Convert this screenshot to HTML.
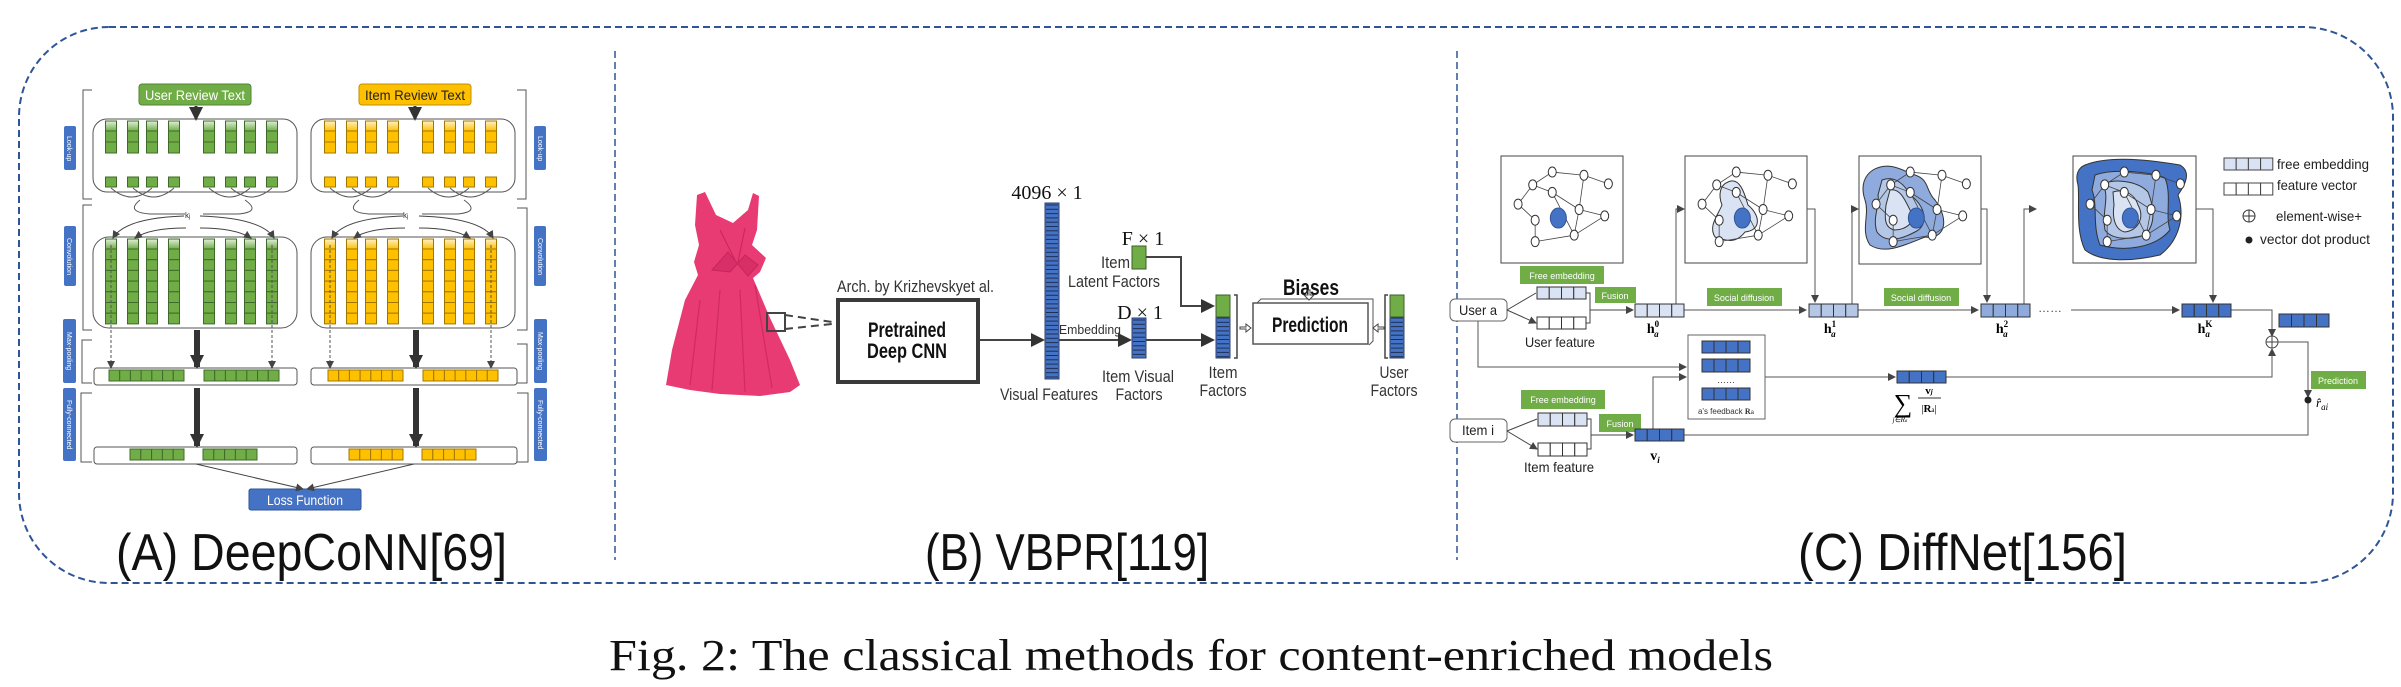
<!DOCTYPE html>
<html><head><meta charset="utf-8"><style>
html,body{margin:0;padding:0;background:#fff;}
svg{display:block;}
text{font-family:"Liberation Sans Narrow","Liberation Sans",sans-serif;}
.t{font-family:"Liberation Sans",sans-serif;}
.s{font-family:"Liberation Serif",serif;}
</style></head><body>
<svg id="S" width="2401" height="687" viewBox="0 0 2401 687" xmlns="http://www.w3.org/2000/svg">
<defs>
<marker id="ar" markerWidth="8" markerHeight="8" refX="7" refY="4" orient="auto" markerUnits="userSpaceOnUse"><path d="M0,0 L8,4 L0,8 z" fill="#444"/></marker>
<marker id="ab" markerWidth="14" markerHeight="14" refX="12" refY="7" orient="auto" markerUnits="userSpaceOnUse"><path d="M0,0 L14,7 L0,14 z" fill="#333"/></marker>
<linearGradient id="gg" x1="0" y1="0" x2="0" y2="1"><stop offset="0" stop-color="#e2f0d9"/><stop offset="1" stop-color="#70ad47"/></linearGradient>
<linearGradient id="gy" x1="0" y1="0" x2="0" y2="1"><stop offset="0" stop-color="#fff2cc"/><stop offset="1" stop-color="#ffc000"/></linearGradient>
</defs>
<rect x="19" y="27" width="2374" height="556" rx="90" ry="90" fill="none" stroke="#2f5597" stroke-width="2" stroke-dasharray="7,4"/>
<line x1="615" y1="51" x2="615" y2="560" stroke="#2f5597" stroke-width="1.5" stroke-dasharray="7,4"/>
<line x1="1457" y1="51" x2="1457" y2="560" stroke="#2f5597" stroke-width="1.5" stroke-dasharray="7,4"/>

<g id="A">
<rect x="139" y="84" width="112" height="21" rx="3" fill="#70ad47" stroke="#548235"/>
<text x="195" y="100" font-size="14" fill="#fff" text-anchor="middle" class="t" textLength="100" lengthAdjust="spacingAndGlyphs">User Review Text</text>
<rect x="359" y="84" width="112" height="21" rx="3" fill="#ffc000" stroke="#bf9000"/>
<text x="415" y="100" font-size="14" fill="#222" text-anchor="middle" class="t" textLength="100" lengthAdjust="spacingAndGlyphs">Item Review Text</text>
<rect x="93" y="119" width="204" height="73" rx="14" fill="none" stroke="#555" stroke-width="1"/>
<rect x="311" y="119" width="204" height="73" rx="14" fill="none" stroke="#555" stroke-width="1"/>
<rect x="93" y="237" width="204" height="91" rx="16" fill="none" stroke="#555" stroke-width="1"/>
<rect x="311" y="237" width="204" height="91" rx="16" fill="none" stroke="#555" stroke-width="1"/>
<rect x="94" y="368" width="203" height="17" rx="3" fill="none" stroke="#555"/>
<rect x="311" y="368" width="206" height="17" rx="3" fill="none" stroke="#555"/>
<rect x="94" y="447" width="203" height="17" rx="3" fill="none" stroke="#555"/>
<rect x="311" y="447" width="206" height="17" rx="3" fill="none" stroke="#555"/>
<rect x="249" y="489" width="112" height="21" rx="2" fill="#4472c4" stroke="#2f5597"/>
<text x="305" y="505" font-size="14" fill="#fff" text-anchor="middle" class="t" textLength="76" lengthAdjust="spacingAndGlyphs">Loss Function</text>
<line x1="196" y1="464" x2="303" y2="489" stroke="#444" marker-end="url(#ar)"/>
<line x1="414" y1="464" x2="307" y2="489" stroke="#444" marker-end="url(#ar)"/>
<g fill="#4472c4">
<rect x="64" y="126" width="12" height="44" rx="2"/><rect x="64" y="226" width="12" height="60" rx="2"/>
<rect x="63" y="319" width="13" height="64" rx="2"/><rect x="63" y="388" width="13" height="73" rx="2"/>
<rect x="534" y="126" width="12" height="44" rx="2"/><rect x="534" y="226" width="12" height="60" rx="2"/>
<rect x="534" y="319" width="13" height="64" rx="2"/><rect x="534" y="388" width="13" height="73" rx="2"/>
</g>
<g font-size="7" fill="#fff" class="t">
<text transform="translate(67,136) rotate(90)">Look-up</text>
<text transform="translate(67,238) rotate(90)">Convolution</text>
<text transform="translate(67,332) rotate(90)">Max-pooling</text>
<text transform="translate(67,400) rotate(90)">Fully-connected</text>
<text transform="translate(538,136) rotate(90)">Look-up</text>
<text transform="translate(538,238) rotate(90)">Convolution</text>
<text transform="translate(538,332) rotate(90)">Max-pooling</text>
<text transform="translate(538,400) rotate(90)">Fully-connected</text>
</g>
<g fill="none" stroke="#555" stroke-width="1">
<path d="M92,90 H83 V199 H92"/><path d="M92,205 H83 V330 H92"/><path d="M92,340 H82 V383 H92"/><path d="M92,393 H81 V462 H92"/>
<path d="M517,90 H526 V199 H517"/><path d="M517,208 H527 V330 H517"/><path d="M517,344 H527 V383 H517"/><path d="M517,393 H528 V462 H517"/>
</g>
<g fill="#333" class="s"><text x="185" y="218" font-size="8">k<tspan font-size="6">j</tspan></text><text x="403" y="218" font-size="8">k<tspan font-size="6">j</tspan></text></g>
<g id="Agen"></g>
</g>
<text x="116" y="570" font-size="52" class="t" fill="#111" textLength="391" lengthAdjust="spacingAndGlyphs">(A) DeepCoNN[69]</text>

<g id="B">
<path d="M697,195 L705,192 L716,215 L733,223 L748,210 L753,193 L759,196 L757,230 L752,245 L766,258 L760,272 L753,278 L770,318 L790,360 L800,385 L790,392 L760,396 L720,394 L690,390 L666,385 L672,350 L685,300 L698,275 L694,262 L699,245 L695,225 Z" fill="#e83a73"/>
<path d="M720,230 L735,260 M745,228 L738,262 M728,252 L712,270 L730,272 L745,255 L758,265 L748,276 Z" stroke="#c8245a" fill="#d92f68" stroke-width="1"/>
<path d="M700,300 L690,385 M720,290 L712,390 M740,290 L745,392 M755,285 L772,388" stroke="#d02a62" stroke-width="1.2" fill="none"/>
<rect x="767" y="313" width="18" height="18" fill="none" stroke="#444" stroke-width="2"/>
<path d="M785,315 L832,322 M785,329 L832,324" stroke="#444" stroke-width="2" stroke-dasharray="8,5"/>
<text x="837" y="292" font-size="17" fill="#333" textLength="157" lengthAdjust="spacingAndGlyphs">Arch. by Krizhevskyet al.</text>
<rect x="838" y="300" width="140" height="82" fill="#fff" stroke="#3a3a3a" stroke-width="4"/>
<text x="907" y="337" font-size="21" font-weight="bold" text-anchor="middle" fill="#111" textLength="78" lengthAdjust="spacingAndGlyphs">Pretrained</text>
<text x="907" y="358" font-size="21" font-weight="bold" text-anchor="middle" fill="#111" textLength="80" lengthAdjust="spacingAndGlyphs">Deep CNN</text>
<line x1="980" y1="340" x2="1043" y2="340" stroke="#444" stroke-width="2" marker-end="url(#ab)"/>
<text x="1047" y="199" font-size="20" text-anchor="middle" class="s" fill="#111">4096 × 1</text>
<rect x="1045" y="203" width="14" height="176" fill="#4472c4" stroke="#2f3f6a"/>
<text x="1049" y="400" font-size="17" text-anchor="middle" fill="#333" textLength="98" lengthAdjust="spacingAndGlyphs">Visual Features</text>
<line x1="1059" y1="340" x2="1130" y2="340" stroke="#444" stroke-width="2" marker-end="url(#ab)"/>
<text x="1059" y="334" font-size="13" fill="#333" textLength="62" lengthAdjust="spacingAndGlyphs">Embedding</text>
<rect x="1132" y="318" width="14" height="40" fill="#4472c4" stroke="#2f3f6a"/>
<text x="1140" y="319" font-size="20" text-anchor="middle" class="s" fill="#111">D × 1</text>
<text x="1138" y="382" font-size="17" text-anchor="middle" fill="#333" textLength="72" lengthAdjust="spacingAndGlyphs">Item Visual</text>
<text x="1139" y="400" font-size="17" text-anchor="middle" fill="#333" textLength="47" lengthAdjust="spacingAndGlyphs">Factors</text>
<rect x="1132" y="246" width="14" height="23" fill="#70ad47" stroke="#3f5f2a"/>
<text x="1143" y="245" font-size="20" text-anchor="middle" class="s" fill="#111">F × 1</text>
<text x="1130" y="268" font-size="17" text-anchor="end" fill="#333" textLength="29" lengthAdjust="spacingAndGlyphs">Item</text>
<text x="1114" y="287" font-size="17" text-anchor="middle" fill="#333" textLength="92" lengthAdjust="spacingAndGlyphs">Latent Factors</text>
<path d="M1146,257 H1181 V306 H1213" fill="none" stroke="#444" stroke-width="2" marker-end="url(#ab)"/>
<line x1="1146" y1="340" x2="1213" y2="340" stroke="#444" stroke-width="2" marker-end="url(#ab)"/>
<rect x="1216" y="295" width="14" height="63" fill="#4472c4" stroke="#2f3f6a"/>
<rect x="1216" y="295" width="14" height="22" fill="#70ad47" stroke="#3f5f2a"/>
<path d="M1234,295 h3 v63 h-3" fill="none" stroke="#444" stroke-width="1.5"/>
<text x="1223" y="378" font-size="17" text-anchor="middle" fill="#333" textLength="29" lengthAdjust="spacingAndGlyphs">Item</text>
<text x="1223" y="396" font-size="17" text-anchor="middle" fill="#333" textLength="47" lengthAdjust="spacingAndGlyphs">Factors</text>
<path d="M1240,327 h6 v-3 l5,4 l-5,4 v-3 h-6 z" fill="#fff" stroke="#444"/>
<path d="M1257,303 l4,-4 h112 v42 l-4,4" fill="#fff" stroke="#555"/>
<rect x="1253" y="303" width="115" height="41" fill="#fff" stroke="#555" stroke-width="1.5"/>
<text x="1310" y="332" font-size="21" font-weight="bold" text-anchor="middle" fill="#111" textLength="76" lengthAdjust="spacingAndGlyphs">Prediction</text>
<text x="1311" y="295" font-size="22" font-weight="bold" text-anchor="middle" fill="#111" textLength="56" lengthAdjust="spacingAndGlyphs">Biases</text>
<path d="M1308,290 v5 h-4 l5,5 l5,-5 h-4 v-5 z" fill="#fff" stroke="#444"/>
<path d="M1384,327 h-6 v-3 l-5,4 l5,4 v-3 h6 z" fill="#fff" stroke="#444"/>
<path d="M1388,295 h-3 v63 h3" fill="none" stroke="#444" stroke-width="1.5"/>
<rect x="1390" y="295" width="14" height="63" fill="#4472c4" stroke="#2f3f6a"/>
<rect x="1390" y="295" width="14" height="22" fill="#70ad47" stroke="#3f5f2a"/>
<text x="1394" y="378" font-size="17" text-anchor="middle" fill="#333" textLength="29" lengthAdjust="spacingAndGlyphs">User</text>
<text x="1394" y="396" font-size="17" text-anchor="middle" fill="#333" textLength="47" lengthAdjust="spacingAndGlyphs">Factors</text>
<g id="Bgen"></g>
</g>
<text x="925" y="570" font-size="52" class="t" fill="#111" textLength="284" lengthAdjust="spacingAndGlyphs">(B) VBPR[119]</text>

<g id="C">
<rect x="1501" y="156" width="122" height="107" fill="#fff" stroke="#444"/>
<rect x="1685" y="156" width="122" height="107" fill="#fff" stroke="#444"/>
<rect x="1859" y="156" width="122" height="108" fill="#fff" stroke="#444"/>
<rect x="2073" y="156" width="123" height="107" fill="#fff" stroke="#444"/>
<path d="M1728,182 C1740,176 1745,195 1748,205 C1760,215 1762,230 1745,232 C1735,245 1725,240 1715,237 C1708,226 1718,215 1722,205 C1718,195 1720,185 1728,182 Z" fill="#dae3f3" stroke="#333"/>
<path d="M1873,170 C1890,160 1905,172 1915,175 C1930,180 1925,190 1935,200 C1950,220 1945,240 1925,237 C1905,245 1885,255 1870,245 C1860,230 1870,215 1865,200 C1860,185 1865,175 1873,170 Z" fill="#8faadc" stroke="#333"/>
<path d="M1882,180 C1895,175 1905,185 1910,195 C1925,205 1930,225 1915,232 C1900,240 1885,243 1877,232 C1872,218 1880,205 1878,195 Z" fill="#b4c7e7" stroke="#333"/>
<path d="M1890,190 C1900,188 1905,200 1910,210 C1918,222 1905,230 1895,230 C1883,228 1885,215 1886,205 Z" fill="#dae3f3" stroke="#333"/>
<path d="M2085,165 C2110,155 2150,160 2180,165 C2192,172 2185,185 2178,195 C2185,215 2180,240 2160,255 C2130,262 2100,262 2085,250 C2075,230 2080,200 2078,185 C2075,175 2078,168 2085,165 Z" fill="#4472c4" stroke="#333"/>
<path d="M2095,175 C2115,168 2150,172 2165,178 C2172,195 2165,215 2170,230 C2155,248 2125,252 2100,245 C2092,225 2098,205 2092,190 Z" fill="#8faadc" stroke="#333"/>
<path d="M2105,183 C2120,178 2140,183 2148,192 C2155,210 2155,225 2145,235 C2130,240 2112,240 2105,230 C2102,215 2108,200 2105,190 Z" fill="#b4c7e7" stroke="#333"/>
<path d="M2113,192 C2125,188 2135,195 2138,205 C2145,218 2138,230 2125,232 C2115,230 2112,218 2114,205 Z" fill="#dae3f3" stroke="#333"/>
<g id="graphs"></g>
<g id="leg"></g>
<text x="2277" y="169" font-size="14" fill="#222" textLength="92" lengthAdjust="spacingAndGlyphs">free embedding</text>
<text x="2277" y="190" font-size="14" fill="#222" textLength="80" lengthAdjust="spacingAndGlyphs">feature vector</text>
<circle cx="2249" cy="216" r="6" fill="none" stroke="#333"/><path d="M2243,216 h12 M2249,210 v12" stroke="#333"/>
<text x="2276" y="221" font-size="14" fill="#222" textLength="86" lengthAdjust="spacingAndGlyphs">element-wise+</text>
<circle cx="2249" cy="240" r="3.5" fill="#222"/>
<text x="2260" y="244" font-size="14" fill="#222" textLength="110" lengthAdjust="spacingAndGlyphs">vector dot product</text>
<rect x="1450" y="299" width="57" height="22" rx="5" fill="#fff" stroke="#666"/>
<text x="1478" y="315" font-size="14" text-anchor="middle" fill="#222" textLength="38" lengthAdjust="spacingAndGlyphs">User a</text>
<rect x="1520" y="266" width="84" height="18" fill="#70ad47"/>
<text x="1562" y="279" font-size="9" text-anchor="middle" fill="#fff">Free embedding</text>
<rect x="1595" y="287" width="41" height="16" fill="#70ad47"/>
<text x="1615" y="299" font-size="9" text-anchor="middle" fill="#fff">Fusion</text>
<path d="M1507,310 L1536,293 M1507,310 L1536,323" stroke="#444" marker-end="url(#ar)"/>
<path d="M1586,293 h4 v30 h-4 M1590,310 h43" fill="none" stroke="#444" marker-end="url(#ar)"/>
<text x="1560" y="347" font-size="14" text-anchor="middle" fill="#222" textLength="70" lengthAdjust="spacingAndGlyphs">User feature</text>
<text x="1653" y="333" font-size="14" font-weight="bold" class="s" text-anchor="middle">h<tspan font-size="9" dy="-6">0</tspan><tspan font-size="9" dx="-5" dy="10" font-style="italic">a</tspan></text>
<rect x="1707" y="288" width="75" height="18" fill="#70ad47"/>
<text x="1744" y="301" font-size="9" text-anchor="middle" fill="#fff">Social diffusion</text>
<rect x="1884" y="288" width="75" height="18" fill="#70ad47"/>
<text x="1921" y="301" font-size="9" text-anchor="middle" fill="#fff">Social diffusion</text>
<text x="1830" y="333" font-size="14" font-weight="bold" class="s" text-anchor="middle">h<tspan font-size="9" dy="-6">1</tspan><tspan font-size="9" dx="-5" dy="10" font-style="italic">a</tspan></text>
<text x="2002" y="333" font-size="14" font-weight="bold" class="s" text-anchor="middle">h<tspan font-size="9" dy="-6">2</tspan><tspan font-size="9" dx="-5" dy="10" font-style="italic">a</tspan></text>
<text x="2205" y="333" font-size="14" font-weight="bold" class="s" text-anchor="middle">h<tspan font-size="9" dy="-6">K</tspan><tspan font-size="9" dx="-7" dy="10" font-style="italic">a</tspan></text>
<g fill="none" stroke="#555" stroke-width="1">
<path d="M1684,310 H1806" marker-end="url(#ar)"/>
<path d="M1858,310 H1978" marker-end="url(#ar)"/>
<path d="M2071,310 H2179" marker-end="url(#ar)"/>
<path d="M1676,304 V209 H1684" marker-end="url(#ar)"/>
<path d="M1807,209 H1815 V302" marker-end="url(#ar)"/>
<path d="M1852,304 V209 H1858" marker-end="url(#ar)"/>
<path d="M1981,209 H1987 V302" marker-end="url(#ar)"/>
<path d="M2024,304 V209 H2036" marker-end="url(#ar)"/>
<path d="M2196,209 H2213 V302" marker-end="url(#ar)"/>
<path d="M2231,310 H2272 V336" marker-end="url(#ar)"/>
<path d="M1478,321 V367 H1686" marker-end="url(#ar)"/>
<path d="M1765,377 H1895" marker-end="url(#ar)"/>
<path d="M1946,377 H2272 V349" marker-end="url(#ar)"/>
<path d="M2278,342 H2308 V397" marker-end="url(#ar)"/>
<path d="M1641,435 H2308 V403"/>
<path d="M1653,429 V377 H1686" marker-end="url(#ar)"/>
</g>
<text x="2038" y="312" font-size="12" fill="#444">……</text>
<circle cx="2272" cy="342" r="6" fill="#fff" stroke="#444"/><path d="M2266,342 h12 M2272,336 v12" stroke="#444"/>
<circle cx="2308" cy="400" r="3.5" fill="#222"/>
<rect x="2311" y="371" width="55" height="18" fill="#70ad47"/>
<text x="2338" y="384" font-size="9" text-anchor="middle" fill="#fff">Prediction</text>
<text x="2316" y="407" font-size="13" class="s" font-style="italic">r̂<tspan font-size="9" dy="3">ai</tspan></text>
<rect x="1688" y="335" width="77" height="84" fill="#fff" stroke="#666"/>
<text x="1726" y="383" font-size="9" text-anchor="middle" fill="#333">……</text>
<text x="1726" y="414" font-size="8" text-anchor="middle" fill="#333">a's feedback <tspan font-weight="bold" class="s">R</tspan><tspan font-size="6">a</tspan></text>
<text x="1903" y="412" font-size="26" class="s" text-anchor="middle">∑</text>
<text x="1900" y="422" font-size="7" class="s" font-style="italic" text-anchor="middle">j∈R<tspan font-size="5">a</tspan></text>
<text x="1929" y="394" font-size="11" class="s" font-weight="bold" text-anchor="middle">v<tspan font-size="7" font-style="italic">j</tspan></text>
<line x1="1918" y1="398" x2="1941" y2="398" stroke="#333"/>
<text x="1929" y="412" font-size="11" class="s" text-anchor="middle">|<tspan font-weight="bold">R</tspan><tspan font-size="7">a</tspan>|</text>
<rect x="1450" y="419" width="57" height="23" rx="5" fill="#fff" stroke="#666"/>
<text x="1478" y="435" font-size="14" text-anchor="middle" fill="#222" textLength="32" lengthAdjust="spacingAndGlyphs">Item i</text>
<rect x="1521" y="390" width="84" height="19" fill="#70ad47"/>
<text x="1563" y="403" font-size="9" text-anchor="middle" fill="#fff">Free embedding</text>
<rect x="1599" y="414" width="42" height="18" fill="#70ad47"/>
<text x="1620" y="427" font-size="9" text-anchor="middle" fill="#fff">Fusion</text>
<path d="M1507,431 L1537,419 M1507,431 L1537,449" stroke="#444" marker-end="url(#ar)"/>
<path d="M1587,419 h4 v30 h-4 M1591,435 h42" fill="none" stroke="#444" marker-end="url(#ar)"/>
<text x="1559" y="472" font-size="14" text-anchor="middle" fill="#222" textLength="70" lengthAdjust="spacingAndGlyphs">Item feature</text>
<text x="1655" y="460" font-size="14" font-weight="bold" class="s" text-anchor="middle">v<tspan font-size="9" font-style="italic" dy="3">i</tspan></text>
<g id="vecs"></g>
</g>
<text x="1798" y="570" font-size="52" class="t" fill="#111" textLength="329" lengthAdjust="spacingAndGlyphs">(C) DiffNet[156]</text>

<text x="609" y="670" font-size="44" class="s" fill="#111" textLength="1164" lengthAdjust="spacingAndGlyphs">Fig. 2: The classical methods for content-enriched models</text>
</svg>
<script>
var NS="http://www.w3.org/2000/svg";
function el(p,t,a){var e=document.createElementNS(NS,t);for(var k in a)e.setAttribute(k,a[k]);document.getElementById(p).appendChild(e);return e;}
var cxL=[111,133,152,174,209,231,250,272];
function cols(off,fill,stroke,grad){
 cxL.forEach(function(c){var x=c+off-5.5;
  el("Agen","rect",{x:x,y:121,width:11,height:10,fill:"url(#"+grad+")",stroke:stroke});
  el("Agen","rect",{x:x,y:131,width:11,height:11,fill:fill,stroke:stroke});
  el("Agen","rect",{x:x,y:142,width:11,height:11,fill:fill,stroke:stroke});
  el("Agen","rect",{x:x,y:177,width:11,height:10,fill:fill,stroke:stroke});
  el("Agen","rect",{x:x,y:239,width:11,height:10,fill:"url(#"+grad+")",stroke:stroke});
  for(var i=0;i<7;i++)el("Agen","rect",{x:x,y:249+i*10.7,width:11,height:10.7,fill:fill,stroke:stroke});
 });
 [[109,184],[204,279]].forEach(function(r){var n=7,w=(r[1]-r[0])/n;for(var i=0;i<n;i++)el("Agen","rect",{x:r[0]+off+i*w,y:370,width:w,height:11,fill:fill,stroke:stroke});});
 [[130,184],[203,257]].forEach(function(r){var n=5,w=(r[1]-r[0])/n;for(var i=0;i<n;i++)el("Agen","rect",{x:r[0]+off+i*w,y:449,width:w,height:11,fill:fill,stroke:stroke});});
 [[111,152],[133,174],[209,250],[231,272]].forEach(function(p){el("Agen","path",{d:"M"+(p[0]+off)+",188 Q"+((p[0]+p[1])/2+off)+",206 "+(p[1]+off)+",188",fill:"none",stroke:"#555"});});
 el("Agen","path",{d:"M"+(140+off)+",200 Q"+(125+off)+",212 "+(150+off)+",214 L"+(185+off)+",214",fill:"none",stroke:"#555"});
 el("Agen","path",{d:"M"+(245+off)+",200 Q"+(262+off)+",212 "+(238+off)+",214 L"+(203+off)+",214",fill:"none",stroke:"#555"});
 el("Agen","path",{d:"M"+(184+off)+",216 Q"+(125+off)+",218 "+(113+off)+",238",fill:"none",stroke:"#444","marker-end":"url(#ar)"});
 el("Agen","path",{d:"M"+(186+off)+",228 Q"+(150+off)+",228 "+(135+off)+",238",fill:"none",stroke:"#444","marker-end":"url(#ar)"});
 el("Agen","path",{d:"M"+(200+off)+",216 Q"+(262+off)+",218 "+(274+off)+",238",fill:"none",stroke:"#444","marker-end":"url(#ar)"});
 el("Agen","path",{d:"M"+(200+off)+",228 Q"+(235+off)+",228 "+(251+off)+",238",fill:"none",stroke:"#444","marker-end":"url(#ar)"});
 [111,272].forEach(function(c){el("Agen","line",{x1:c+off,y1:245,x2:c+off,y2:368,stroke:"#555","stroke-dasharray":"3,2","marker-end":"url(#ar)"});});
 el("Agen","line",{x1:196+off,y1:106,x2:196+off,y2:119,stroke:"#333","stroke-width":3,"marker-end":"url(#ab)"});
 el("Agen","line",{x1:197+off,y1:330,x2:197+off,y2:367,stroke:"#333","stroke-width":6,"marker-end":"url(#ab)"});
 el("Agen","line",{x1:197+off,y1:388,x2:197+off,y2:446,stroke:"#333","stroke-width":6,"marker-end":"url(#ab)"});
}
cols(0,"#70ad47","#3f6b2a","gg");
cols(219,"#ffc000","#a07800","gy");
for(var y=205;y<378;y+=4.3)el("Bgen","line",{x1:1046,y1:y,x2:1058,y2:y,stroke:"#1f2f55","stroke-width":1});
[[1133,320,357],[1217,318,357],[1391,318,357]].forEach(function(b){for(var y=b[1];y<b[2];y+=4.3)el("Bgen","line",{x1:b[0],y1:y,x2:b[0]+12,y2:y,stroke:"#1f2f55","stroke-width":1});});
function vec(x,y,w,h,fill){var cw=w/4;for(var i=0;i<4;i++)el("vecs","rect",{x:x+i*cw,y:y,width:cw,height:h,fill:fill,stroke:"#333"});}
vec(1537,287,49,12,"#dae3f3");vec(1537,317,49,12,"#fff");
vec(1635,304,49,13,"#dae3f3");vec(1809,304,49,13,"#b4c7e7");vec(1981,304,49,13,"#8faadc");vec(2182,304,49,13,"#4472c4");
vec(2279,314,50,13,"#4472c4");
vec(1702,341,48,12,"#4472c4");vec(1702,359,48,13,"#4472c4");vec(1702,388,48,12,"#4472c4");
vec(1897,371,49,12,"#4472c4");
vec(1538,413,49,13,"#dae3f3");vec(1538,443,49,13,"#fff");
vec(1635,429,49,12,"#4472c4");
(function(){var g="leg";for(var i=0;i<4;i++){el(g,"rect",{x:2224+i*12.2,y:158,width:12.2,height:12,fill:"#dae3f3",stroke:"#444"});el(g,"rect",{x:2224+i*12.2,y:183,width:12.2,height:12,fill:"#fff",stroke:"#444"});}})();
var G=[[1501,156],[1685,156],[1859,156],[2073,156]];
var nodes=[[0.42,0.15],[0.68,0.18],[0.88,0.26],[0.26,0.27],[0.42,0.34],[0.14,0.45],[0.64,0.5],[0.85,0.56],[0.28,0.6],[0.6,0.74],[0.28,0.8]];
var edges=[[0,1],[1,2],[0,3],[3,4],[3,5],[4,6],[1,6],[6,7],[5,8],[8,10],[10,9],[9,7],[6,9],[4,9]];
G.forEach(function(g){var x=g[0],y=g[1],w=122,h=107;
 edges.forEach(function(e){var a=nodes[e[0]],b=nodes[e[1]];el("graphs","line",{x1:x+a[0]*w,y1:y+a[1]*h,x2:x+b[0]*w,y2:y+b[1]*h,stroke:"#444","stroke-width":0.8});});
 nodes.forEach(function(n){el("graphs","ellipse",{cx:x+n[0]*w,cy:y+n[1]*h,rx:4,ry:5,fill:"#fff",stroke:"#333"});});
 el("graphs","ellipse",{cx:x+0.47*w,cy:y+0.58*h,rx:8,ry:10,fill:"#4472c4",stroke:"#2f5597"});
});
</script>
</body></html>
